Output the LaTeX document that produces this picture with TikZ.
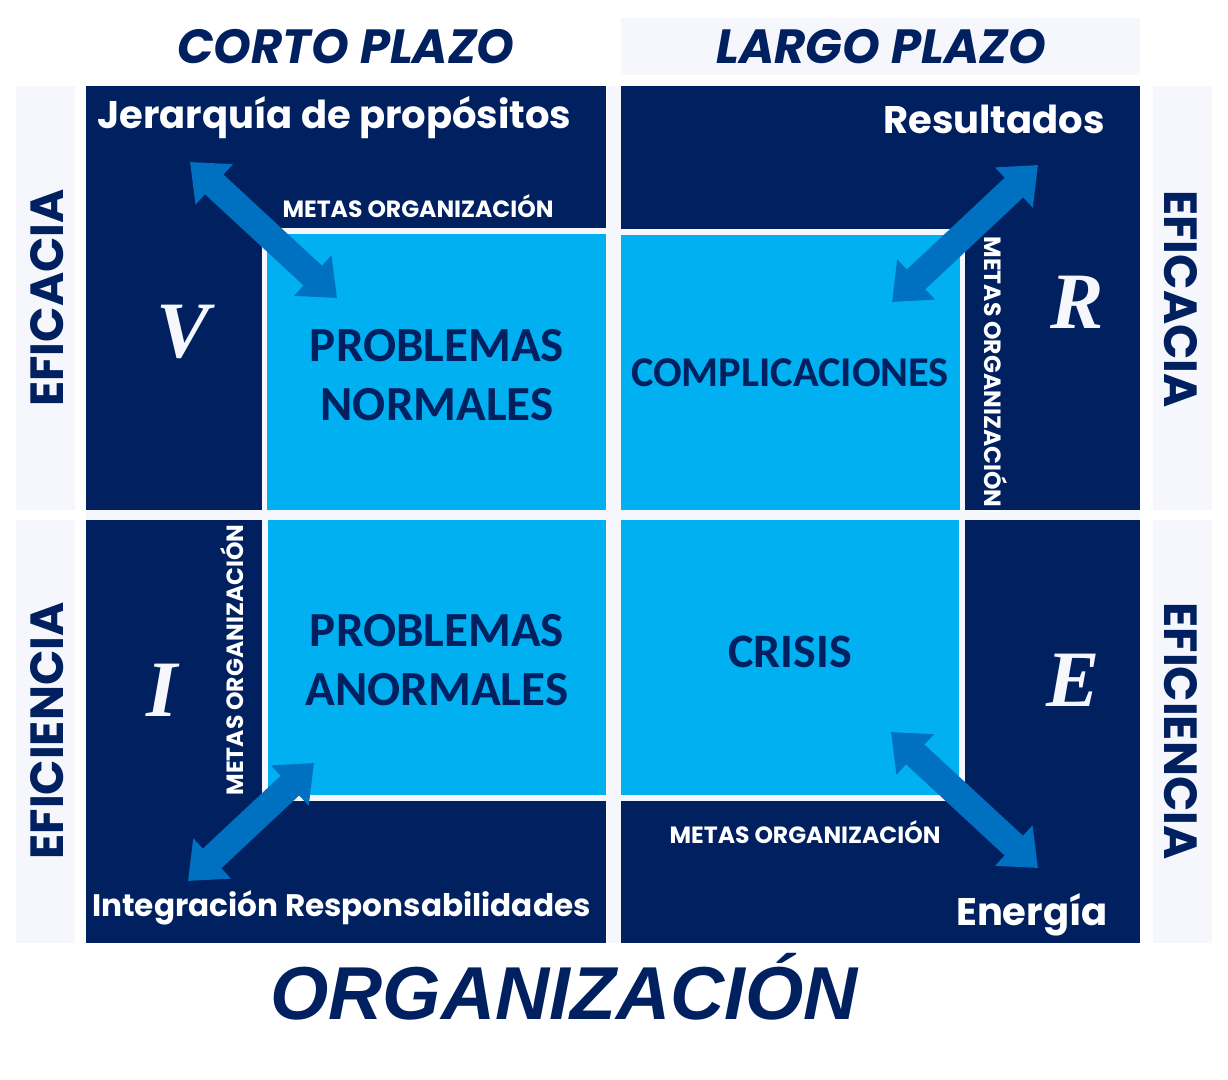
\documentclass[tikz,border=0pt]{standalone}
\usepackage{fontspec}
\usetikzlibrary{arrows.meta}
\newfontfamily\gothic{Poppins}
\newfontfamily\calib{Carlito}
\newfontfamily\arialf{Liberation Sans}
\newfontfamily\timesf{Liberation Serif}
\definecolor{navy}{HTML}{002060}
\definecolor{skyb}{HTML}{00B0F0}
\definecolor{arrowb}{HTML}{0070C0}
\definecolor{paleb}{HTML}{F5F7FC}
\tikzset{
  bar/.style={fill=paleb},
  quad/.style={fill=navy},
  inner/.style={fill=skyb},
  rim/.style={fill=paleb},
  dbl/.style={draw=arrowb, line width=27pt,
    {Triangle[length=33pt,width=53pt]}-{Triangle[length=33pt,width=53pt]}},
  head/.style={text=navy, font=\gothic\bfseries\itshape\fontsize{48}{48}\selectfont, inner sep=0pt},
  side/.style={text=navy, font=\gothic\bfseries\fontsize{46.5}{46.5}\selectfont, inner sep=0pt},
  wlab/.style={text=white, font=\gothic\bfseries\fontsize{38.5}{38.5}\selectfont, inner sep=0pt},
  meta/.style={text=white, font=\gothic\bfseries\fontsize{23.5}{23.5}\selectfont, inner sep=0pt},
  big/.style={text=navy, font=\calib\bfseries\fontsize{49}{59}\selectfont, inner sep=0pt, align=center},
  letter/.style={text=paleb, font=\timesf\bfseries\itshape\fontsize{80}{80}\selectfont, inner sep=0pt},
}
\begin{document}
\begin{tikzpicture}[x=1pt,y=-1pt]
\useasboundingbox (0,0) rectangle (1228,1079);
\fill[white] (0,0) rectangle (1228,1079);
% pale bars
\fill[bar] (16,86) rectangle (75,510);
\fill[bar] (16,520) rectangle (75,943);
\fill[bar] (1153,86) rectangle (1212,510);
\fill[bar] (1153,520) rectangle (1212,943);
\fill[bar] (621,18) rectangle (1140,75);
\fill[bar] (607,86) rectangle (621,943);
\fill[bar] (86,510) rectangle (1140,520);
% quadrants
\fill[quad] (86,86) rectangle (606,510);
\fill[quad] (621,86) rectangle (1140,510);
\fill[quad] (86,520) rectangle (606,943);
\fill[quad] (621,520) rectangle (1140,943);
% inner boxes with rims
\fill[rim] (262,228) rectangle (606,510);
\fill[inner] (267,234) rectangle (606,510);
\fill[rim] (621,229) rectangle (965,510);
\fill[inner] (621,235) rectangle (960,510);
\fill[rim] (262,520) rectangle (606,801);
\fill[inner] (268,520) rectangle (606,795);
\fill[rim] (621,520) rectangle (965,801);
\fill[inner] (621,520) rectangle (959,795);
% headings
\node[head] (corto) at (346,47) {CORTO PLAZO};
\node[head] (largo) at (881,47) {LARGO PLAZO};
\node[text=navy, font=\arialf\bfseries\itshape\fontsize{75}{75}\selectfont, inner sep=0pt] (org) at (564,987) {ORGANIZACIÓN};
% side labels
\node[side, rotate=90] (efl) at (47,298) {EFICACIA};
\node[side, rotate=90] (eil) at (47,731) {EFICIENCIA};
\node[side, rotate=-90] (efr) at (1181,299) {EFICACIA};
\node[side, rotate=-90] (eir) at (1181,731) {EFICIENCIA};
% corner labels
\node[wlab, anchor=west] (jer) at (97,118) {Jerarquía de propósitos};
\node[wlab, anchor=east] (res) at (1105,119) {Resultados};
\node[wlab, anchor=west, font=\gothic\bfseries\fontsize{31.1}{31.1}\selectfont] (integ) at (92,908) {Integración Responsabilidades};
\node[wlab, anchor=east] (ene) at (1108,915) {Energía};
% metas
\node[meta] (m1) at (418,206) {METAS ORGANIZACIÓN};
\node[meta, rotate=-90] (m2) at (996,372) {METAS ORGANIZACIÓN};
\node[meta, rotate=90] (m3) at (232,660) {METAS ORGANIZACIÓN};
\node[meta] (m4) at (805,832) {METAS ORGANIZACIÓN};
% big labels
\node[big] (pn) at (437,375) {PROBLEMAS\\NORMALES};
\node[big, font=\calib\bfseries\fontsize{42.4}{42.4}\selectfont] (comp) at (790,373) {COMPLICACIONES};
\node[big] (pa) at (437,660) {PROBLEMAS\\ANORMALES};
\node[big, font=\calib\bfseries\fontsize{48}{48}\selectfont] (cri) at (790,652) {CRISIS};
% letters
\node[letter] (lv) at (183,332) {V};
\node[letter] (lr) at (1077,302) {R};
\node[letter] (li) at (162,690) {I};
\node[letter] (le) at (1073,680) {E};
% arrows
\coordinate (a1s) at (190,162); \coordinate (a1e) at (337,298);
\coordinate (a2s) at (1038,165); \coordinate (a2e) at (892,302);
\coordinate (a3s) at (314,763); \coordinate (a3e) at (188,881);
\coordinate (a4s) at (891,732); \coordinate (a4e) at (1038,868);
\draw[dbl] (a1s) -- (a1e);
\draw[dbl] (a2s) -- (a2e);
\draw[dbl] (a3s) -- (a3e);
\draw[dbl] (a4s) -- (a4e);
\end{tikzpicture}
\end{document}
